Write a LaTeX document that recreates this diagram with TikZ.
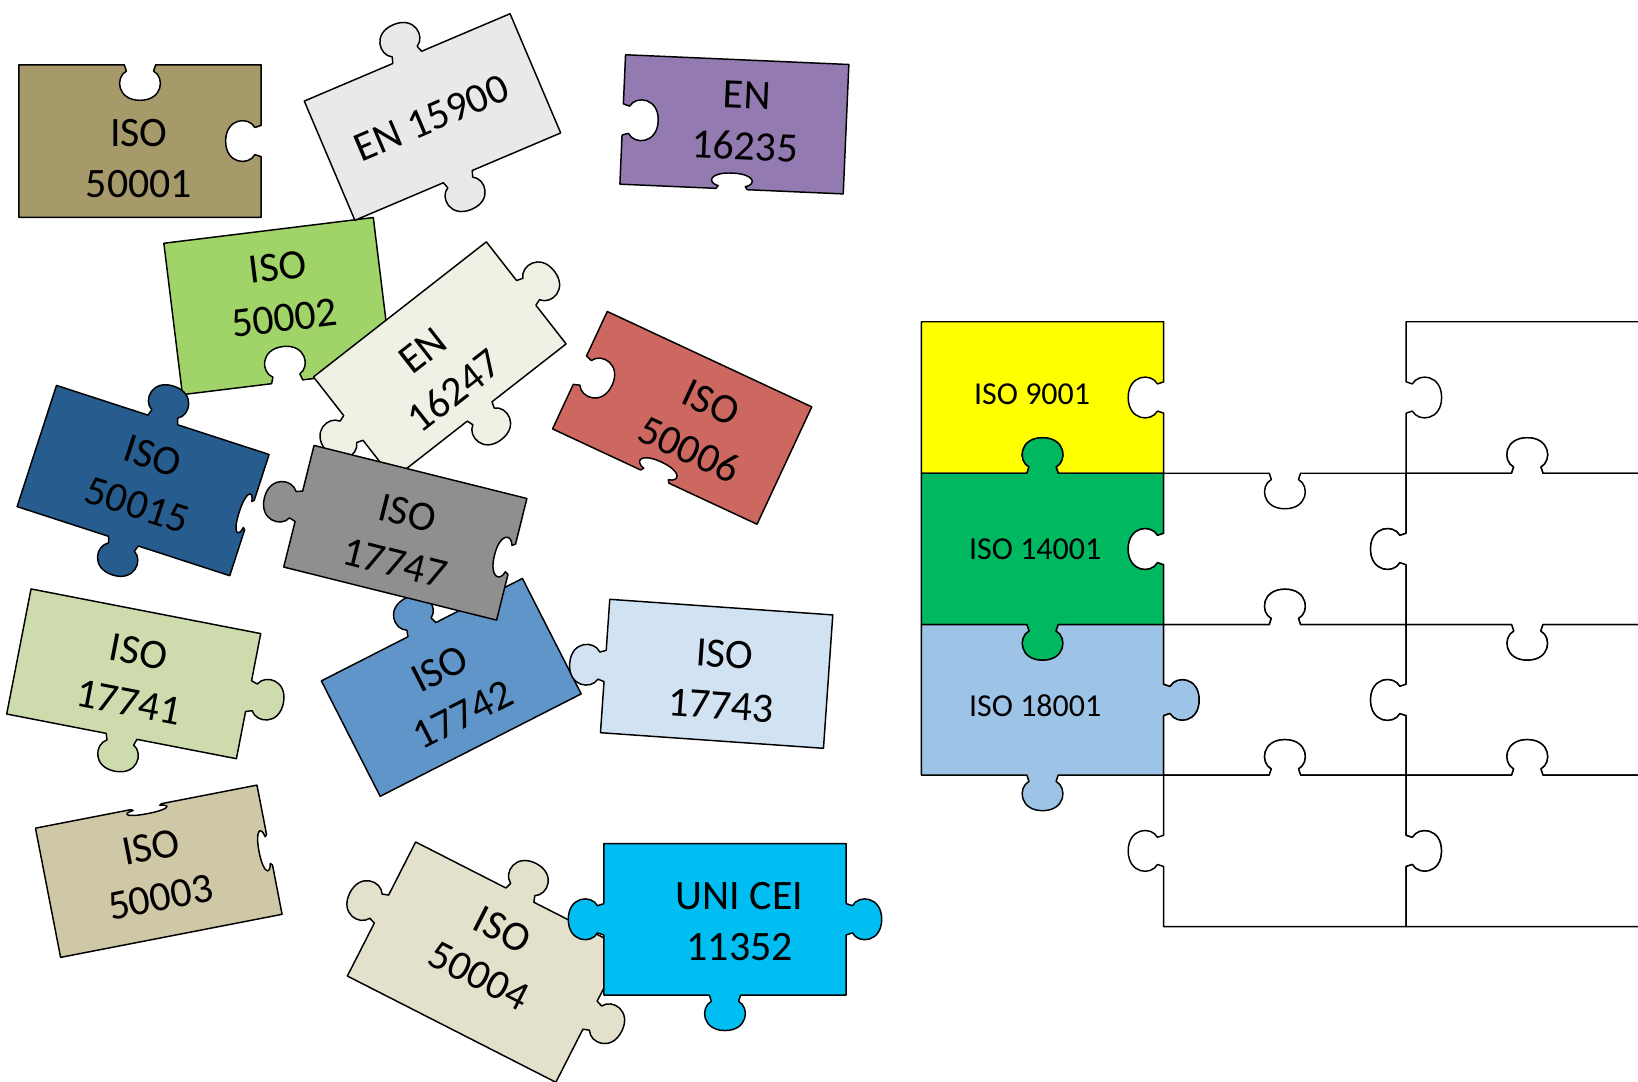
\documentclass[tikz,border=0pt]{standalone}
\usepackage{fontspec}
\setmainfont{Carlito}
\usetikzlibrary{positioning}

\definecolor{cISOa}{HTML}{A6996A}
\definecolor{cENa}{HTML}{E9E9E9}
\definecolor{cENb}{HTML}{937AB1}
\definecolor{cISOb}{HTML}{A0D468}
\definecolor{cENc}{HTML}{EFF1E4}
\definecolor{cISOf}{HTML}{CC6860}
\definecolor{cISOo}{HTML}{275C8F}
\definecolor{cISOg}{HTML}{8F8F8F}
\definecolor{cISOh}{HTML}{CEDCAD}
\definecolor{cISOi}{HTML}{6095C9}
\definecolor{cISOj}{HTML}{D1E2F3}
\definecolor{cISOc}{HTML}{CEC8A6}
\definecolor{cISOd}{HTML}{E3E0CB}
\definecolor{cUNI}{HTML}{00BDF2}
\definecolor{cQual}{HTML}{FFFF00}
\definecolor{cEnv}{HTML}{00B860}
\definecolor{cSafe}{HTML}{9DC3E6}

% #1 centre, #2 angle, #3 colour, #4 half width, #5 half height, #6-#9 top/right/bottom/left (1 tab, -1 blank, 0 flat)
\newcommand{\piece}[9]{%
  \begin{scope}[shift={#1},rotate=#2]
    \filldraw[piece,fill=#3] (-#4,-#5)
      -- (-15,-#5) -- (-13,{-#5-6*(#6)}) .. controls (-24,{-#5-12*(#6)}) and (-22,{-#5-34*(#6)}) .. (0,{-#5-34*(#6)})
         .. controls (22,{-#5-34*(#6)}) and (24,{-#5-12*(#6)}) .. (13,{-#5-6*(#6)}) -- (15,-#5)
      -- (#4,-#5)
      -- (#4,-15) -- ({#4+6*(#7)},-13) .. controls ({#4+12*(#7)},-24) and ({#4+34*(#7)},-22) .. ({#4+34*(#7)},0)
         .. controls ({#4+34*(#7)},22) and ({#4+12*(#7)},24) .. ({#4+6*(#7)},13) -- (#4,15)
      -- (#4,#5)
      -- (15,#5) -- (13,{#5+6*(#8)}) .. controls (24,{#5+12*(#8)}) and (22,{#5+34*(#8)}) .. (0,{#5+34*(#8)})
         .. controls (-22,{#5+34*(#8)}) and (-24,{#5+12*(#8)}) .. (-13,{#5+6*(#8)}) -- (-15,#5)
      -- (-#4,#5)
      -- (-#4,15) -- ({-#4-6*(#9)},13) .. controls ({-#4-12*(#9)},24) and ({-#4-34*(#9)},22) .. ({-#4-34*(#9)},0)
         .. controls ({-#4-34*(#9)},-22) and ({-#4-12*(#9)},-24) .. ({-#4-6*(#9)},-13) -- (-#4,-15)
      -- cycle;
  \end{scope}}

\begin{document}
\begin{tikzpicture}[x=0.01cm,y=-0.01cm,
    piece/.style={draw=black,line width=0.4pt,line join=round},
    lbl/.style={font=\fontsize{11.4}{14}\selectfont,align=center,inner sep=0pt},
    glbl/.style={font=\fontsize{8.7}{10}\selectfont,inner sep=0pt}]
\useasboundingbox (0,0) rectangle (1568,1035);
\clip (0,0) rectangle (1568,1035);

% loose pieces
\piece{(134,135)}{0}{cISOa}{116}{73}{-1}{-1}{0}{0}
\node[lbl] (t50001) at (133,152) {ISO\\50001};

\piece{(266,293)}{7}{cISOb}{101}{73}{0}{0}{-1}{0}
\node[lbl,rotate=7] (t50002) at (269,280) {ISO\\50002};

\piece{(414,112)}{23}{cENa}{107}{62}{1}{0}{1}{0}
\node[lbl,rotate=23] (t15900) at (413,113) {EN 15900};

\piece{(703,119)}{-2.5}{cENb}{107}{62}{0}{0}{-0.45}{-1}
\node[lbl,rotate=-2.5] (t16235) at (714,116) {EN\\16235};

\piece{(653,400)}{-25}{cISOf}{108}{62}{0}{0}{-0.45}{-1}
\node[lbl,rotate=-25] (t50006) at (670,408) {ISO\\50006};

\piece{(137,460)}{-18}{cISOo}{107}{61}{1}{-0.3}{1}{0}
\node[lbl,rotate=-18] (t50015) at (139,460) {ISO\\50015};

\piece{(421,345)}{38}{cENc}{105}{62}{0}{1}{1}{1}
\node[lbl,rotate=38] (t16247) at (420,355) {EN\\16247};

\piece{(432,658)}{27}{cISOi}{108}{62}{1}{0}{0}{0}
\node[lbl,rotate=27] (t17742) at (432,662) {ISO\\17742};

\piece{(388,510)}{-14}{cISOg}{105}{60}{0}{-0.5}{0}{1}
\node[lbl,rotate=-14] (t17747) at (384,515) {ISO\\17747};

\piece{(128,645)}{-11}{cISOh}{112}{61}{0}{1}{1}{0}
\node[lbl,rotate=-11] (t17741) at (128,648) {ISO\\17741};

\piece{(686,645)}{-4}{cISOj}{107}{64}{0}{0}{0}{1}
\node[lbl,rotate=-4] (t17743) at (692,651) {ISO\\17743};

\piece{(152,834)}{11}{cISOc}{108}{63}{-0.2}{-0.3}{0}{0}
\node[lbl,rotate=11] (t50003) at (149,835) {ISO\\50003};

\piece{(465,921)}{-27}{cISOd}{112}{72}{1}{1}{0}{1}
\node[lbl,rotate=-27] (t50004) at (470,912) {ISO\\50004};

\piece{(694,880)}{0}{cUNI}{116}{72.5}{0}{1}{1}{1}
\node[lbl] (t11352) at (708,882) {UNI CEI\\11352};

% assembled grid
\piece{(998,380.5)}{0}{cQual}{116}{72.5}{0}{-1}{-1}{0}
\piece{(998,525.5)}{0}{cEnv}{116}{72.5}{1}{-1}{1}{0}
\piece{(998,670)}{0}{cSafe}{116}{72}{-1}{1}{1}{0}
\piece{(1462,380.5)}{0}{white}{116}{72.5}{0}{0}{-1}{-1}
\piece{(1230,525.5)}{0}{white}{116}{72.5}{-1}{-1}{-1}{1}
\piece{(1462,525.5)}{0}{white}{116}{72.5}{1}{0}{1}{1}
\piece{(1230,670)}{0}{white}{116}{72}{1}{-1}{-1}{-1}
\piece{(1462,670)}{0}{white}{116}{72}{-1}{0}{-1}{1}
\piece{(1230,814.5)}{0}{white}{116}{72.5}{1}{1}{0}{1}
\piece{(1462,814.5)}{0}{white}{116}{72.5}{1}{0}{0}{-1}

\node[glbl] (t9001) at (988,377) {ISO 9001};
\node[glbl] (t14001) at (991,526) {ISO 14001};
\node[glbl] (t18001) at (991,676) {ISO 18001};
\end{tikzpicture}
\end{document}
